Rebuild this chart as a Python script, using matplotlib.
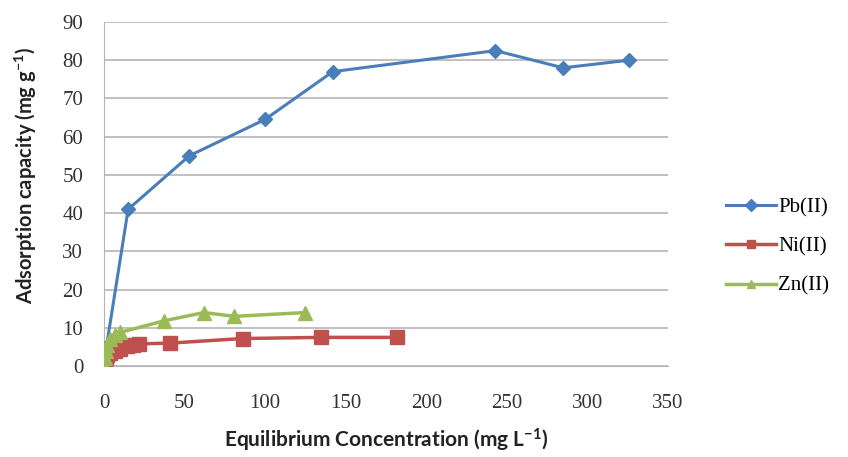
import matplotlib
matplotlib.use('Agg')
import matplotlib.pyplot as plt

plt.rcParams['font.family'] = 'serif'
plt.rcParams['font.serif'] = ['Liberation Serif', 'DejaVu Serif']
plt.rcParams['mathtext.fontset'] = 'custom'
plt.rcParams['mathtext.rm'] = 'Lato:bold'
plt.rcParams['mathtext.default'] = 'rm'

# data
pb_x = [0.1, 0.5, 1.5, 15, 53, 100, 142, 243, 285, 326]
pb_y = [0.5, 2, 5, 41, 55, 64.5, 77, 82.5, 78, 80]

ni_x = [0, 0.5, 1, 2, 4, 7, 10, 14, 18, 22, 41, 86, 135, 182]
ni_y = [0, 1, 2, 3, 3.5, 4, 4.5, 5.2, 5.6, 5.8, 6, 7.2, 7.5, 7.5]

zn_x = [0, 0.5, 1, 2, 4, 7, 10, 37, 62, 81, 125]
zn_y = [0, 2, 4, 5.5, 7, 8, 8.8, 11.8, 14, 13, 14]

xticks = [0, 50, 100, 150, 200, 250, 300, 350]
yticks = [0, 10, 20, 30, 40, 50, 60, 70, 80, 90]

fig = plt.figure(figsize=(8.48, 4.57), dpi=100)
ax = fig.add_axes([0.1226, 0.199, 0.665, 0.753])

ax.plot(pb_x, pb_y, '-D', color='#4A7EBB', lw=2.2, ms=7, label='Pb(II)', zorder=3)
ax.plot(ni_x, ni_y, '-s', color='#C0504D', lw=2.5, ms=10, label='Ni(II)', zorder=4)
ax.plot(zn_x, zn_y, '-^', color='#9BBB59', lw=2.5, ms=10, label='Zn(II)', zorder=5)

ax.set_xlim(0, 350)
ax.set_ylim(0, 90)
ax.set_xticks(xticks)
ax.set_yticks(yticks)
ax.set_xticklabels([str(v) for v in xticks], family='Liberation Serif')
ax.set_yticklabels([str(v) for v in yticks], family='Liberation Serif')
ax.grid(axis='y', color='#b5b5b5', lw=1.2)
ax.set_axisbelow(True)
for s in ['top', 'right']:
    ax.spines[s].set_visible(False)
ax.spines['left'].set_color('#b5b5b5')
ax.spines['bottom'].set_color('#b5b5b5')
ax.tick_params(length=0, labelsize=15, colors='#333333')
ax.tick_params(axis='x', pad=20)
ax.tick_params(axis='y', pad=15)

ax.set_xlabel('Equilibrium Concentration (mg L$^{-1}$)', fontsize=15, family='Lato',
              fontweight='bold', color='#222222', labelpad=10)
ax.set_ylabel('Adsorption capacity (mg g$^{-1}$)', fontsize=14.5, family='Lato',
              fontweight='bold', color='#222222')
ax.yaxis.set_label_coords(-0.115, 0.555)

leg = fig.legend(loc='center left', bbox_to_anchor=(0.834, 0.46), frameon=False,
                 prop={'size': 15},
                 handlelength=2.4, labelspacing=0.95, handletextpad=0.1)
for h in leg.legend_handles:
    h.set_markersize(6)

fig.savefig('out.png', dpi=100)
